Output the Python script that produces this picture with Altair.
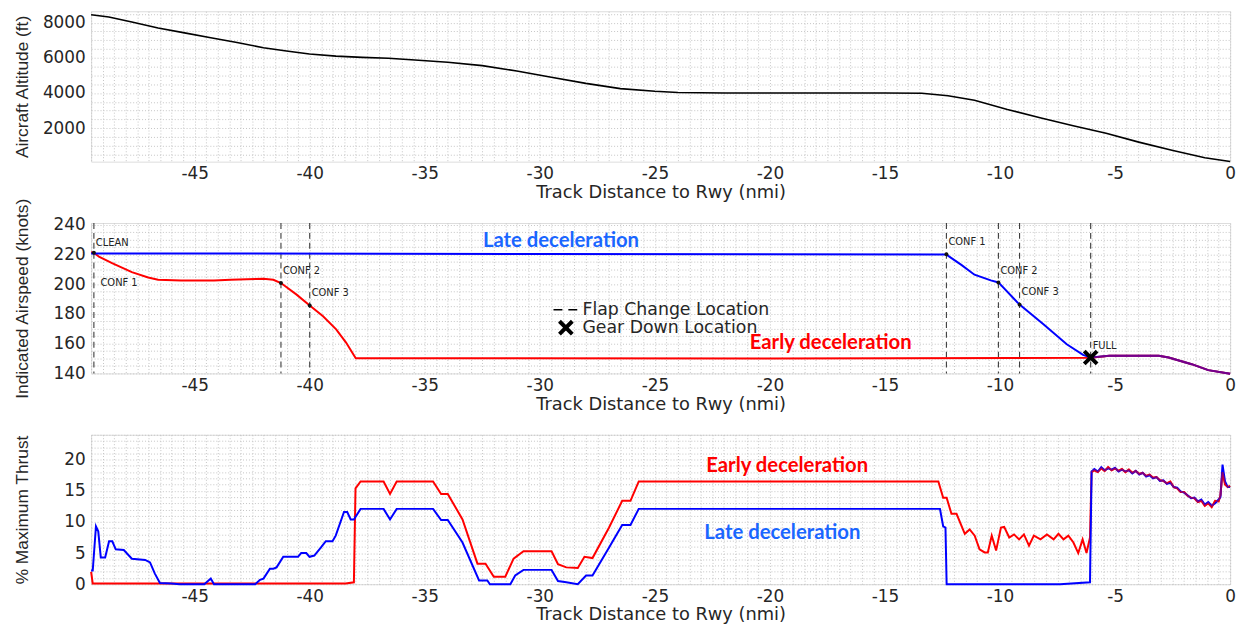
import altair as alt
import pandas as pd

# ---------------- data ----------------
# Top panel: aircraft altitude (ft) vs track distance (nmi)
alt_dist = [-49.5, -48.73, -47.73, -46.59, -45.44, -44.30, -43.16, -42.01, -41.01, -40.01,
            -38.86, -37.72, -36.58, -35.43, -34.0, -32.5, -31.0, -29.5, -28.0, -26.5,
            -25.0, -24.0, -22.0, -18.0, -15.0, -13.4, -12.26, -11.11, -9.68, -8.26,
            -6.82, -5.39, -3.97, -2.53, -1.10, 0.0]
alt_ft = [8450, 8320, 8040, 7700, 7420, 7140, 6875, 6575, 6390, 6220,
          6100, 6030, 5975, 5880, 5750, 5560, 5250, 4900, 4550, 4250,
          4100, 4030, 4000, 4000, 4000, 3990, 3850, 3590, 3070, 2600,
          2140, 1710, 1210, 745, 320, 110]

# Middle panel: indicated airspeed (knots)
late_spd_x = [-49.5, -30.0, -12.33, -11.68, -11.11, -10.40, -10.07, -9.15, -8.10, -7.10,
              -6.39, -6.06, -5.25, -3.10, -2.67, -1.67, -0.95, 0.0]
late_spd = [220.6, 220.2, 219.8, 212.9, 206.3, 202.5, 201.1, 186.2, 172.9, 159.6,
            152.5, 150.7, 151.8, 151.8, 150.7, 146.2, 142.2, 139.8]
early_spd_x = [-49.5, -49.38, -49.16, -48.59, -47.73, -47.02, -46.59, -45.59, -44.16, -43.44,
               -42.73, -42.01, -41.58, -41.25, -40.57, -40.0, -39.42, -38.85, -38.42, -38.0,
               -20.0, -6.06, -5.25, -3.10, -2.67, -1.67, -0.95, 0.0]
early_spd = [221.3, 221.1, 218.4, 214.0, 208.0, 204.4, 202.9, 202.4, 202.4, 202.9,
             203.3, 203.6, 202.9, 200.7, 192.9, 185.6, 178.4, 169.6, 160.7, 150.2,
             150.0, 150.5, 151.8, 151.8, 150.7, 146.2, 142.2, 139.8]

# flap change locations (vertical dashed lines)
flap_x = [-49.38, -41.25, -40.0, -12.33, -10.07, -9.15, -6.06]
# flap change points on the curves
flap_pt_x = [-49.38, -41.25, -40.0, -12.33, -10.07, -9.15]
flap_pt_y = [221.1, 200.7, 185.6, 220.0, 201.1, 186.2]
# flap labels
flap_lbl = ["CLEAN", "CONF 1", "CONF 2", "CONF 3", "CONF 1", "CONF 2", "CONF 3", "FULL"]
flap_lbl_x = [-49.38, -49.18, -41.25, -40.0, -12.33, -10.07, -9.15, -6.06]
flap_lbl_y = [227.3, 200.7, 208.5, 193.8, 228.0, 208.5, 194.7, 158.5]
# gear down
gear_x = [-6.06]
gear_y = [150.7]

# Bottom panel: % maximum thrust
late_thr_x = [-49.5, -49.43, -49.29, -49.19, -49.08, -48.89, -48.72, -48.58, -48.43, -48.08,
              -47.73, -47.15, -46.94, -46.73, -46.51, -46.01, -45.65, -44.58, -44.30, -44.16,
              -42.37, -42.16, -42.01, -41.73, -41.58, -41.44, -41.15, -40.51, -40.37, -40.15,
              -40.01, -39.80, -39.51, -39.30, -39.01, -38.87, -38.51, -38.37, -38.22, -38.08,
              -37.79, -36.79, -36.51, -36.22, -34.64, -34.29, -34.0, -33.36, -32.64, -32.28,
              -32.17, -31.28, -31.07, -30.71, -29.49, -29.21, -28.85, -28.35, -27.99, -27.71,
              -26.99, -26.42, -26.06, -25.70, -12.61, -12.47, -12.37, -12.32, -7.39, -6.09]
late_thr = [2.2, 2.2, 9.3, 8.5, 4.3, 4.3, 6.9, 6.9, 5.6, 5.5,
            4.1, 3.9, 3.5, 1.7, 0.2, 0.1, 0.0, 0.0, 0.9, 0.0,
            0.0, 0.7, 0.9, 2.5, 2.5, 2.7, 4.4, 4.4, 5.0, 5.0,
            4.4, 4.6, 5.9, 6.9, 6.9, 7.8, 11.6, 11.6, 10.4, 10.4,
            12.1, 12.1, 10.4, 12.1, 12.1, 10.3, 10.3, 6.7, 0.6, 0.6,
            0.0, 0.0, 1.4, 2.3, 2.3, 0.5, 0.3, 0.0, 1.4, 1.4,
            5.9, 9.5, 9.5, 12.1, 12.1, 9.3, 9.1, 0.0, 0.0, 0.3]
early_thr_x = [-49.5, -49.43, -38.44, -38.08, -38.01, -37.79, -36.79, -36.51, -36.22, -34.64,
               -34.29, -34.0, -33.36, -32.71, -32.36, -32.0, -31.5, -31.14, -30.71, -29.49,
               -29.21, -28.85, -28.35, -28.06, -27.71, -26.99, -26.42, -26.06, -25.70, -12.68,
               -12.47, -12.32, -12.11, -11.89, -11.53, -11.32, -11.10, -10.89, -10.67, -10.53,
               -10.36, -10.17, -9.96, -9.82, -9.60, -9.39, -9.17, -8.96, -8.74, -8.53,
               -8.24, -7.96, -7.67, -7.46, -7.24, -7.03, -6.81, -6.60, -6.41, -6.24, -6.09]
early_thr = [2.0, 0.1, 0.1, 0.3, 15.4, 16.5, 16.5, 14.5, 16.5, 16.5,
             14.5, 14.5, 10.4, 3.3, 3.3, 1.2, 1.2, 4.1, 5.3, 5.3,
             3.2, 2.7, 2.6, 4.4, 4.2, 9.1, 13.4, 13.4, 16.5, 16.5,
             13.9, 13.9, 11.3, 11.3, 8.1, 8.8, 7.8, 5.6, 5.1, 5.1,
             7.8, 5.4, 9.1, 9.2, 7.5, 8.0, 7.2, 8.0, 6.2, 7.8,
             7.2, 8.0, 7.2, 8.1, 7.2, 7.8, 6.7, 5.0, 7.2, 5.0, 7.5]
# final segment (both cases nearly identical)
tail_x = [-6.02, -5.9, -5.75, -5.6, -5.45, -5.3, -5.15, -5.0, -4.85, -4.7,
          -4.55, -4.4, -4.25, -4.1, -3.95, -3.8, -3.65, -3.5, -3.35, -3.2,
          -3.05, -2.9, -2.75, -2.6, -2.45, -2.3, -2.15, -2.0, -1.85, -1.7,
          -1.55, -1.4, -1.25, -1.1, -0.95, -0.8, -0.65, -0.5, -0.42, -0.33,
          -0.22, -0.1, 0.0]
tail_early = [18.0, 18.3, 18.0, 18.6, 18.2, 18.8, 18.3, 18.6, 18.2, 18.5,
              18.0, 18.4, 17.9, 18.2, 17.7, 17.9, 17.4, 17.6, 17.1, 17.2,
              16.7, 16.6, 16.2, 16.5, 15.6, 15.4, 14.8, 14.8, 14.2, 13.9,
              13.8, 13.2, 13.4, 12.6, 13.0, 12.4, 13.4, 13.3, 14.3, 18.0,
              16.0, 15.6, 15.8]
tail_late = [18.1, 18.5, 18.1, 18.8, 18.3, 18.6, 18.4, 18.7, 18.1, 18.4,
             18.1, 18.3, 17.8, 18.2, 17.6, 17.9, 17.3, 17.5, 17.0, 17.2,
             16.6, 16.7, 16.1, 16.3, 15.6, 15.5, 14.9, 14.7, 14.3, 13.8,
             13.9, 13.3, 13.6, 12.8, 13.2, 12.6, 13.0, 13.6, 14.0, 19.2,
             16.5, 15.6, 15.6]

# annotations
mid_ann_txt = ["Late deceleration", "Early deceleration"]
mid_ann_x = [-29.08, -17.36]
mid_ann_y = [229.1, 160.5]
bot_ann_txt = ["Early deceleration", "Late deceleration"]
bot_ann_x = [-19.25, -19.46]
bot_ann_y = [18.9, 8.25]
ann_colors = {"Late deceleration": "#1a66ff", "Early deceleration": "#ff0000"}

legend_items = ["Flap Change Location", "Gear Down Location"]

# ---------------- styling helpers ----------------
X_DOMAIN = [-49.5, 0]
x_grid = [round(-49.5 + 0.5 * i, 1) for i in range(100)]
TXT = "#262626"
GRID = dict(grid=True, gridDash=[1, 2], gridColor="#c4c4c4", gridWidth=1,
            ticks=False, domain=False, labelOverlap=False)


def xaxis():
    return alt.Axis(values=x_grid,
                    labelExpr="datum.value % 5 == 0 ? '' + datum.value : ''",
                    title="Track Distance to Rwy (nmi)", labelFlush=False,
                    labelFont="DejaVu Sans", labelFontSize=17, labelColor=TXT,
                    titleFont="DejaVu Sans", titleFontSize=18, titleFontWeight="normal",
                    titleColor=TXT, labelPadding=4, titlePadding=2, **GRID)


def yaxis(title, values, major, skip_zero=False):
    cond = "datum.value %% %d == 0" % major
    if skip_zero:
        cond += " && datum.value != 0"
    return alt.Axis(values=values,
                    labelExpr=cond + " ? '' + datum.value : ''",
                    title=title, labelFont="DejaVu Sans", labelFontSize=17, labelColor=TXT,
                    labelPadding=6, titleFont="Liberation Sans", titleFontSize=17.5,
                    titleFontWeight="normal", titleColor=TXT, titleX=-69,
                    titleBaseline="middle", **GRID)


W = 1151
xs = alt.Scale(domain=X_DOMAIN, nice=False, zero=False)

# ---------------- top panel ----------------
df_alt = pd.DataFrame({"x": alt_dist, "y": alt_ft})
top = alt.Chart(df_alt).mark_line(color="black", strokeWidth=1.6).encode(
    x=alt.X("x:Q", scale=xs, axis=xaxis()),
    y=alt.Y("y:Q", scale=alt.Scale(domain=[100, 8650], nice=False, zero=False),
            axis=yaxis("Aircraft Altitude (ft)", list(range(500, 8501, 500)), 2000, True)),
).properties(width=W, height=152)

# ---------------- middle panel ----------------
ys_mid = alt.Scale(domain=[140, 241], nice=False, zero=False)
y_mid_axis = yaxis("Indicated Airspeed (knots)", list(range(140, 241, 5)), 20)

base_mid_x = alt.X("x:Q", scale=xs, axis=xaxis())
base_mid_y = alt.Y("y:Q", scale=ys_mid, axis=y_mid_axis)

df_flap = pd.DataFrame({"x": flap_x})
rules = alt.Chart(df_flap).mark_rule(color="#3a3a3a", strokeDash=[6, 4], strokeWidth=1.1).encode(
    x=base_mid_x)

df_late_spd = pd.DataFrame({"x": late_spd_x, "y": late_spd})
df_early_spd = pd.DataFrame({"x": early_spd_x, "y": early_spd})

red_spd = alt.Chart(df_early_spd).mark_line(color="#ff0000", strokeWidth=2).encode(x=base_mid_x, y=base_mid_y)
blue_spd = alt.Chart(df_late_spd).mark_line(color="#0000ff", strokeWidth=2).encode(x=base_mid_x, y=base_mid_y)
red_spd_tail = alt.Chart(df_early_spd).transform_filter("datum.x >= -6.1").mark_line(
    color="#ff0000", strokeWidth=2, opacity=0.45).encode(x=base_mid_x, y=base_mid_y)

df_pts = pd.DataFrame({"x": flap_pt_x, "y": flap_pt_y})
dots = alt.Chart(df_pts).mark_circle(color="#111111", size=16, opacity=1).encode(x=base_mid_x, y=base_mid_y)

df_lbl = pd.DataFrame({"x": flap_lbl_x, "y": flap_lbl_y, "t": flap_lbl})
lbls = alt.Chart(df_lbl).mark_text(align="left", baseline="middle", dx=2, font="DejaVu Sans",
                                   fontSize=10, color="#222222").encode(x=base_mid_x, y=base_mid_y, text="t:N")

X_PATH = "M-1.3,-1.3L1.3,1.3M-1.3,1.3L1.3,-1.3"
DASH_PATH = "M-2.5,0L-0.7,0M0.5,0L2.3,0"
df_gear = pd.DataFrame({"x": gear_x, "y": gear_y, "k": [legend_items[1]]})
leg = alt.Legend(title=None, orient="none", legendX=471, legendY=293,
                 labelFont="DejaVu Sans", labelFontSize=17.5, labelColor=TXT, labelLimit=500,
                 symbolSize=100, symbolStrokeColor="black", symbolOpacity=1,
                 padding=0, rowPadding=-6, labelOffset=8)
gear = alt.Chart(df_gear).mark_point(filled=False, size=100, color="black", opacity=1).encode(
    x=base_mid_x, y=base_mid_y,
    shape=alt.Shape("k:O", scale=alt.Scale(domain=legend_items, range=[DASH_PATH, X_PATH]),
                    legend=leg),
    strokeWidth=alt.StrokeWidth("k:O", scale=alt.Scale(domain=legend_items, range=[1.5, 4]),
                                legend=leg))

df_mid_ann = pd.DataFrame({"x": mid_ann_x, "y": mid_ann_y, "t": mid_ann_txt})
mid_ann = alt.Chart(df_mid_ann).mark_text(font="Lato", fontWeight="bold", fontSize=20.5,
                                          baseline="middle", align="center").encode(
    x=base_mid_x, y=base_mid_y, text="t:N",
    color=alt.Color("t:N", scale=alt.Scale(domain=list(ann_colors.keys()),
                                           range=list(ann_colors.values())), legend=None))

middle = alt.layer(rules, red_spd, blue_spd, red_spd_tail, dots, lbls, gear, mid_ann).properties(
    width=W, height=152)

# ---------------- bottom panel ----------------
ys_bot = alt.Scale(domain=[0, 24], nice=False, zero=False)
y_bot_axis = yaxis("% Maximum Thrust", list(range(0, 25, 1)), 5)
bx = alt.X("x:Q", scale=xs, axis=xaxis())
by = alt.Y("y:Q", scale=ys_bot, axis=y_bot_axis)

df_early_thr = pd.DataFrame({"x": early_thr_x + tail_x, "y": early_thr + tail_early})
df_late_thr = pd.DataFrame({"x": late_thr_x + tail_x, "y": late_thr + tail_late})

red_thr = alt.Chart(df_early_thr).mark_line(color="#ff0000", strokeWidth=2).encode(x=bx, y=by)
blue_thr = alt.Chart(df_late_thr).mark_line(color="#0000ff", strokeWidth=2).encode(x=bx, y=by)
red_thr_tail = alt.Chart(df_early_thr).transform_filter("datum.x >= -6.05").mark_line(
    color="#ff0000", strokeWidth=2, opacity=0.5).encode(x=bx, y=by)

df_bot_ann = pd.DataFrame({"x": bot_ann_x, "y": bot_ann_y, "t": bot_ann_txt})
bot_ann = alt.Chart(df_bot_ann).mark_text(font="Lato", fontWeight="bold", fontSize=20.5,
                                          baseline="middle", align="center").encode(
    x=bx, y=by, text="t:N",
    color=alt.Color("t:N", scale=alt.Scale(domain=list(ann_colors.keys()),
                                           range=list(ann_colors.values())), legend=None))

bottom = alt.layer(red_thr, blue_thr, red_thr_tail, bot_ann).properties(width=W, height=151)

chart = alt.vconcat(top, middle, bottom, spacing=62, bounds="flush").properties(
    padding={"left": 5, "top": -7, "right": 5, "bottom": 2}
).configure_view(stroke="#6e6e6e", strokeWidth=1.2).configure(background="white")

chart.save("out.html", embed_options={"renderer": "svg", "actions": False})
